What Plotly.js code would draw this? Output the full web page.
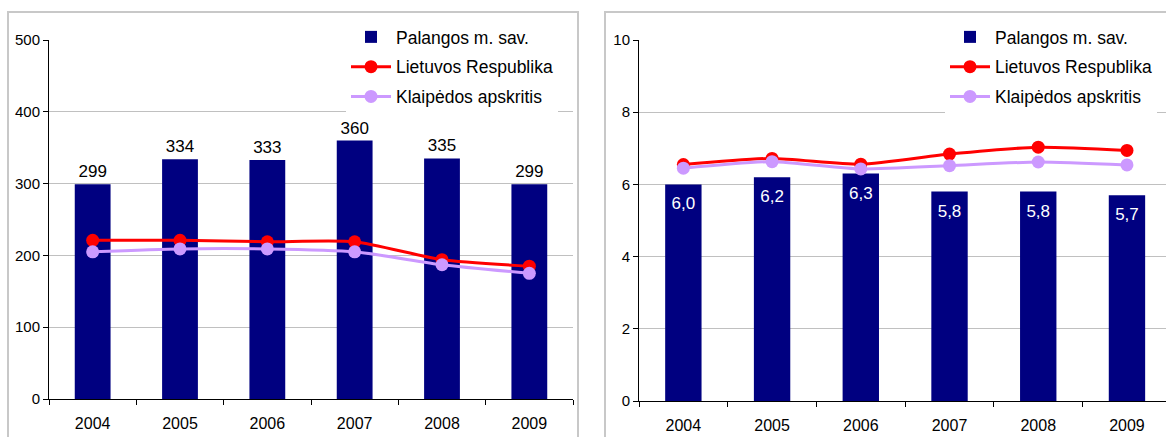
<!DOCTYPE html>
<html>
<head>
<meta charset="utf-8">
<script src="https://cdn.plot.ly/plotly-3.0.1.min.js"></script>
<style>html,body{margin:0;padding:0;background:#fff;}#chart{width:1166px;height:437px;}</style>
</head>
<body>
<div id="chart"></div>
<script>
const years = ['2004', '2005', '2006', '2007', '2008', '2009'];
const seriesNames = ['Palangos m. sav.', 'Lietuvos Respublika', 'Klaipėdos apskritis'];

// Left chart
const palangaLeft = [299, 334, 333, 360, 335, 299];
const lietuvaLeft = [221, 221, 219, 219, 194, 185];
const klaipedaLeft = [205, 209, 209, 205, 187, 175];

// Right chart
const palangaRight = [6.0, 6.2, 6.3, 5.8, 5.8, 5.7];
const lietuvaRight = [6.55, 6.72, 6.56, 6.84, 7.03, 6.94];
const klaipedaRight = [6.45, 6.63, 6.43, 6.52, 6.62, 6.54];

const W = 1166, H = 437;
const px = v => v / W;
const py = v => 1 - v / H;

const navy = '#000080', red = '#ff0000', lav = '#cc99ff';
const font = "'Liberation Sans', Arial, sans-serif";

function lineTraces(l1, l2, xa, ya, leg) {
  return [
    {type: 'scatter', mode: 'lines+markers', x: years, y: l1, name: seriesNames[1], xaxis: xa, yaxis: ya,
     line: {color: red, width: 3, shape: 'spline', smoothing: 0.6}, marker: {color: red, size: 13},
     legend: leg, legendgroup: leg + 'b', cliponaxis: false},
    {type: 'scatter', mode: 'lines+markers', x: years, y: l2, name: seriesNames[2], xaxis: xa, yaxis: ya,
     line: {color: lav, width: 3, shape: 'spline', smoothing: 0.6}, marker: {color: lav, size: 13},
     legend: leg, legendgroup: leg + 'c', cliponaxis: false}
  ];
}

const data = [
  {type: 'bar', x: years, y: palangaLeft, name: seriesNames[0], xaxis: 'x', yaxis: 'y',
   marker: {color: navy}, legend: 'legend', legendgroup: 'la',
   texttemplate: '%{y}', textposition: 'outside',
   outsidetextfont: {color: '#000', size: 17, family: font}, textfont: {color: '#000', size: 17, family: font},
   cliponaxis: false},
  ...lineTraces(lietuvaLeft, klaipedaLeft, 'x', 'y', 'legend'),
  {type: 'bar', x: years, y: palangaRight, name: seriesNames[0], xaxis: 'x2', yaxis: 'y2',
   marker: {color: navy}, legend: 'legend2', legendgroup: 'ra'},
  // value labels inside the bars of the right chart
  {type: 'scatter', mode: 'markers+text', x: years, y: palangaRight, xaxis: 'x2', yaxis: 'y2',
   texttemplate: '%{y:.1f}', textposition: 'bottom center',
   textfont: {color: '#fff', size: 17, family: font},
   marker: {size: 18, opacity: 0}, showlegend: false, cliponaxis: false},
  ...lineTraces(lietuvaRight, klaipedaRight, 'x2', 'y2', 'legend2')
];

const xCommon = {type: 'category', showline: true, linecolor: '#000', linewidth: 1,
  ticks: 'outside', tickson: 'boundaries', ticklen: 5, tickcolor: '#000', ticklabelstandoff: 10,
  showgrid: false, zeroline: false, tickfont: {size: 16, color: '#000', family: font}, fixedrange: true};
const yCommon = {showline: true, linecolor: '#000', linewidth: 1, ticks: 'outside', ticklen: 5, tickcolor: '#000',
  showgrid: true, gridcolor: '#c0c0c0', gridwidth: 1, zeroline: false,
  tickfont: {size: 15, color: '#000', family: font}, fixedrange: true};

const legCommon = {bgcolor: '#ffffff', borderwidth: 0, font: {size: 17.5, color: '#000', family: font},
  traceorder: 'grouped', tracegroupgap: 4, xanchor: 'left', yanchor: 'top', itemwidth: 40};

const layout = {
  width: W, height: H,
  margin: {l: 0, r: 0, t: 0, b: 0},
  paper_bgcolor: '#fff', plot_bgcolor: 'rgba(0,0,0,0)',
  separators: ', ',
  font: {family: font, color: '#000'},
  bargap: 0.59,
  xaxis: Object.assign({}, xCommon, {domain: [px(49), px(573)], anchor: 'y'}),
  yaxis: Object.assign({}, yCommon, {domain: [py(399), py(40)], range: [0, 500], dtick: 100, anchor: 'x'}),
  xaxis2: Object.assign({}, xCommon, {domain: [px(639), 1], range: [-0.5, 5.44], anchor: 'y2'}),
  yaxis2: Object.assign({}, yCommon, {domain: [py(401), py(40)], range: [0, 10], dtick: 2, anchor: 'x2'}),
  legend: Object.assign({}, legCommon, {x: px(346), y: py(19)}),
  legend2: Object.assign({}, legCommon, {x: px(945), y: py(19)}),
  shapes: [
    {type: 'rect', xref: 'paper', yref: 'paper', x0: px(8), x1: px(578), y0: -0.1, y1: py(12),
     line: {color: '#c8c8c8', width: 2}, layer: 'below'},
    {type: 'rect', xref: 'paper', yref: 'paper', x0: px(605), x1: 1.1, y0: -0.1, y1: py(12),
     line: {color: '#c8c8c8', width: 2}, layer: 'below'}
  ]
};

Plotly.newPlot('chart', data, layout, {displayModeBar: false, staticPlot: true});
</script>
</body>
</html>
